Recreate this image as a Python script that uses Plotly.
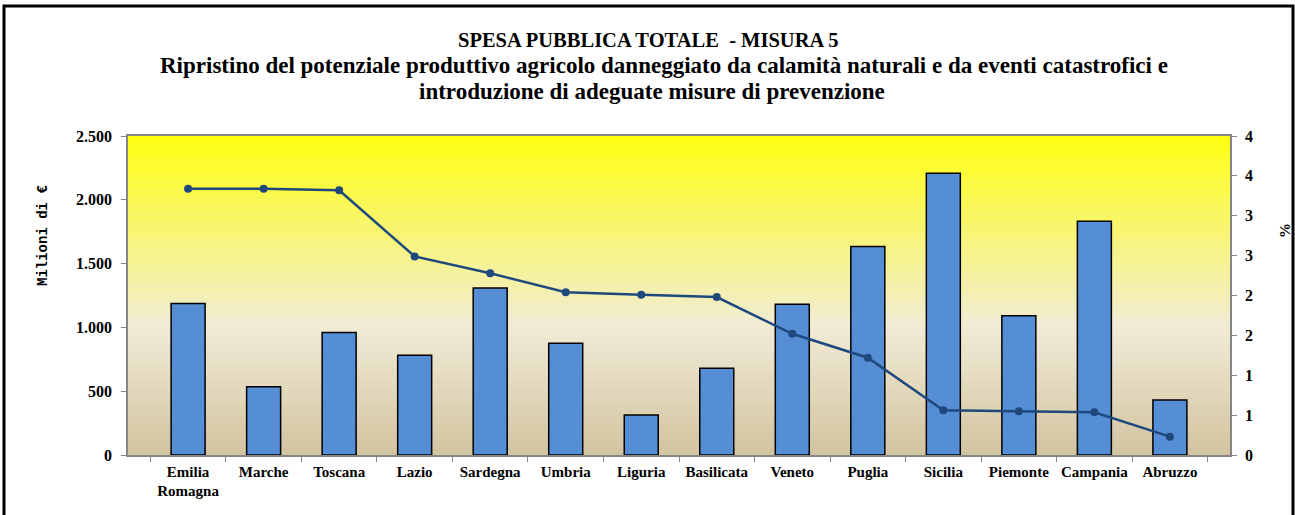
import plotly.graph_objects as go

BAR = "#558ED5"
LINE = "#1F497D"
AXIS = "#868686"
SERIF = "Liberation Serif"
MONO = "Liberation Mono"

regioni = ["Emilia<br>Romagna", "Marche", "Toscana", "Lazio", "Sardegna", "Umbria",
           "Liguria", "Basilicata", "Veneto", "Puglia", "Sicilia", "Piemonte",
           "Campania", "Abruzzo"]
spesa = [1188, 535, 961, 781, 1308, 875, 313, 679, 1182, 1634, 2208, 1091, 1832, 431]
quota = [3.34, 3.34, 3.32, 2.49, 2.28, 2.04, 2.01, 1.98, 1.52, 1.22, 0.56, 0.55, 0.535, 0.23]

pct_ticks = [0, 0.5, 1, 1.5, 2, 2.5, 3, 3.5, 4]
pct_labels = ["0", "1", "1", "2", "2", "3", "3", "4", "4"]

W, H = 1295, 515
L, R, T, B = 128, 65, 136, 60
PW, PH = W - L - R, H - T - B


def px_x(x):
    return (x - L) / PW


def px_y(y):
    return (H - B - y) / PH


def _mix(c1, c2, t):
    a = [int(c1[i:i + 2], 16) for i in (1, 3, 5)]
    b = [int(c2[i:i + 2], 16) for i in (1, 3, 5)]
    return "rgb(%d,%d,%d)" % tuple(round(a[k] + (b[k] - a[k]) * t) for k in range(3))


def gradient(stops, n=100):
    shapes = []
    for i in range(n):
        f = (i + 0.5) / n  # 0 at top, 1 at bottom
        for (p0, c0), (p1, c1) in zip(stops, stops[1:]):
            if p0 <= f <= p1:
                col = _mix(c0, c1, (f - p0) / (p1 - p0))
                break
        shapes.append(dict(type="rect", xref="x domain", yref="y domain", layer="below",
                           x0=0, x1=1, y0=1 - (i + 1) / n, y1=1 - i / n + 0.002,
                           fillcolor=col, line=dict(width=0)))
    return shapes


fig = go.Figure()
fig.add_trace(go.Bar(
    x=regioni, y=spesa, width=0.45,
    marker=dict(color=BAR, line=dict(color="black", width=1.5)),
    hovertemplate="%{x}: %{y:,.0f}<extra></extra>",
))
fig.add_trace(go.Scatter(
    x=regioni, y=quota, yaxis="y2", mode="lines+markers",
    line=dict(color=LINE, width=2.5), marker=dict(color=LINE, size=8),
    hovertemplate="%{x}: %{y:.2f}%<extra></extra>",
))

shapes = gradient([(0, "#FFFF10"), (0.6, "#F1ECD6"), (1, "#D2C3A0")])
shapes.append(dict(type="rect", xref="paper", yref="paper", layer="above",
                   x0=px_x(4), x1=px_x(1293), y0=px_y(525), y1=px_y(6),
                   line=dict(color="black", width=3)))

titles = [
    ("SPESA PUBBLICA TOTALE  - MISURA 5", 648, 40, 20.5),
    ("Ripristino del potenziale produttivo agricolo danneggiato da calamità naturali e da eventi catastrofici e", 664, 66, 23),
    ("introduzione di adeguate misure di prevenzione", 652, 92, 23),
]
annotations = [dict(text=t, xref="paper", yref="paper", x=px_x(x), y=px_y(y),
                    xanchor="center", yanchor="middle", showarrow=False,
                    font=dict(family=SERIF, size=s, color="black", weight="bold"))
               for t, x, y, s in titles]
annotations.append(dict(text="Milioni di €", xref="paper", yref="paper", x=px_x(43), y=px_y(236),
                        xanchor="center", yanchor="middle", textangle=-90, showarrow=False,
                        font=dict(family=MONO, size=14, color="black", weight="bold")))
annotations.append(dict(text="%", xref="paper", yref="paper", x=px_x(1285), y=px_y(231),
                        xanchor="center", yanchor="middle", textangle=-90, showarrow=False,
                        font=dict(family=SERIF, size=15, color="black", weight="bold")))

tick_font = dict(family=SERIF, size=16, color="black", weight="bold")
fig.update_layout(
    width=W, height=H,
    margin=dict(l=L, r=R, t=T, b=B),
    paper_bgcolor="white", plot_bgcolor="white",
    separators=",.",
    showlegend=False,
    shapes=shapes,
    annotations=annotations,
    xaxis=dict(showline=True, linecolor=AXIS, linewidth=1.5, mirror=True,
               ticks="outside", tickson="boundaries", ticklen=5, tickcolor=AXIS,
               ticklabelstandoff=2, tickangle=0, automargin=False,
               tickfont=dict(family=SERIF, size=15, color="black", weight="bold")),
    yaxis=dict(range=[0, 2500], dtick=500, tickformat=",d", showgrid=False,
               showline=True, linecolor=AXIS, linewidth=1.5, ticks="outside",
               ticklen=5, tickcolor=AXIS, tickfont=tick_font, zeroline=False,
               ticklabelstandoff=6, automargin=False),
    yaxis2=dict(range=[0, 4], overlaying="y", side="right", tickvals=pct_ticks,
                ticktext=pct_labels, showgrid=False, showline=True, linecolor=AXIS,
                linewidth=1.5, ticks="outside", ticklen=5, tickcolor=AXIS,
                tickfont=tick_font, zeroline=False, ticklabelstandoff=5,
                automargin=False),
)

fig.write_html("out.html", config={"displayModeBar": False},
               post_script="document.body.style.margin='0';")
